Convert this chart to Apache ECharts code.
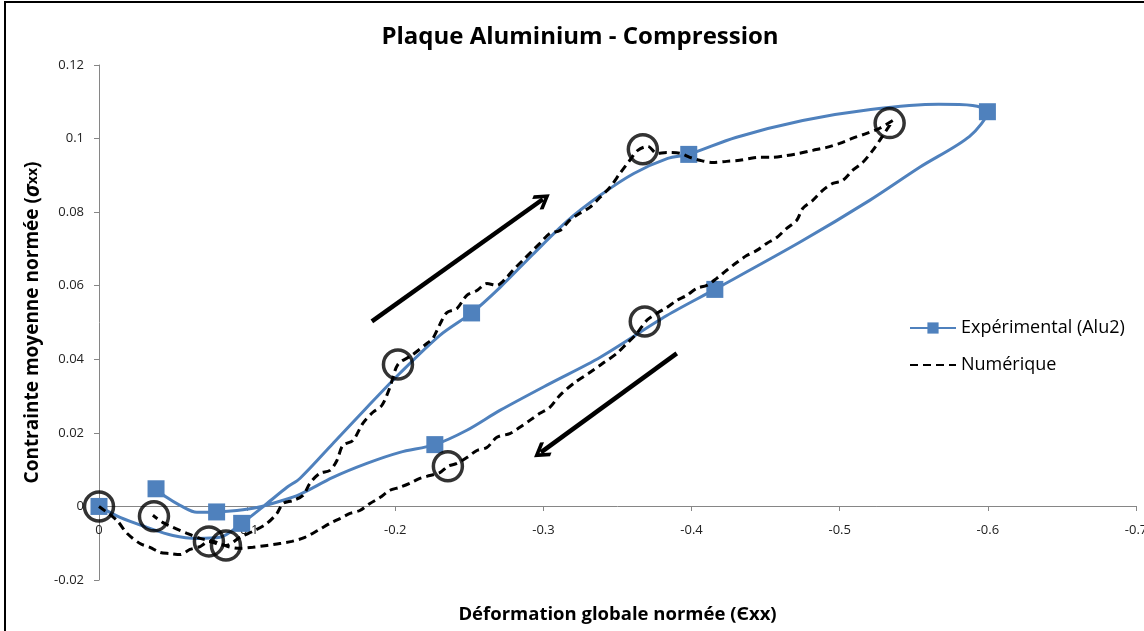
<!DOCTYPE html>
<html>
<head>
<meta charset="utf-8">
<script src="https://cdn.jsdelivr.net/npm/echarts@6/dist/echarts.min.js"></script>
<style>
html,body{margin:0;padding:0;background:#fff;}
#c{width:1144px;height:631px;}
</style>
</head>
<body>
<div id="c"></div>
<script>
const expCurveX = [0, -0.0142, -0.0324, -0.0499, -0.0661, -0.0816, -0.0963,
  -0.1134, -0.1269, -0.1356, -0.1579, -0.1808, -0.2031, -0.2301, -0.2515,
  -0.2706, -0.2928, -0.3158, -0.3381, -0.3610, -0.3839, -0.3981,
  -0.4298, -0.4750, -0.5209, -0.5668, -0.5897, -0.5997,
  -0.5877, -0.5540, -0.5202, -0.4730, -0.4157,
  -0.3833, -0.3381, -0.3043, -0.2706, -0.2483, -0.2267,
  -0.2031, -0.1808, -0.1579, -0.1356, -0.1221, -0.1066, -0.0931, -0.0794,
  -0.0661, -0.0547, -0.0459, -0.0385];
const expCurveY = [0, -0.0030, -0.0057, -0.0079, -0.0087, -0.0084, -0.0046,
  0.0008, 0.0052, 0.0076, 0.0171, 0.0269, 0.0362, 0.0465, 0.0526,
  0.0595, 0.0685, 0.0775, 0.0845, 0.0905, 0.0946, 0.0957,
  0.1003, 0.1049, 0.1079, 0.1093, 0.1090, 0.1073,
  0.1006, 0.0922, 0.0832, 0.0718, 0.0590,
  0.0519, 0.0405, 0.0334, 0.0261, 0.0207, 0.0168,
  0.0147, 0.0117, 0.0079, 0.0033, 0.0014, -0.0003, -0.0011, -0.0015,
  -0.0016, 0.0003, 0.0024, 0.0048];
// Indices of the measured points (square markers) within the curve
const expMarkerIdx = [0, 6, 14, 21, 27, 32, 38, 46, 50];

// Numerical result
const numX = [0, -0.0121, -0.0189, -0.0277, -0.0344, -0.0412, -0.0479, -0.0547, -0.0614, -0.0682, -0.0742, -0.0803, -0.0857,
  -0.0951, -0.1053, -0.1134, -0.1201, -0.1242, -0.1309, -0.1377, -0.1424, -0.1491, -0.1559, -0.1606, -0.1646, -0.1714, -0.1781, -0.1849, -0.1910, -0.1964, -0.2018,
  -0.2112, -0.2213, -0.2254, -0.2301, -0.2348, -0.2416, -0.2483, -0.2551, -0.2618, -0.2686, -0.2753, -0.2794, -0.2861, -0.2928, -0.2976, -0.3043, -0.3111, -0.3178, -0.3246, -0.3313, -0.3381, -0.3448, -0.3516, -0.3583, -0.3637, -0.3705,
  -0.3765, -0.3833, -0.3920, -0.3988, -0.4055, -0.4143, -0.4237, -0.4325, -0.4393, -0.4460, -0.4548, -0.4642, -0.4730, -0.4818, -0.4912, -0.5000, -0.5088, -0.5182, -0.5270, -0.5358,
  -0.5270, -0.5223, -0.5155, -0.5088, -0.5020, -0.4953, -0.4885, -0.4818, -0.4750, -0.4710, -0.4642, -0.4575, -0.4507, -0.4440, -0.4372, -0.4305, -0.4237, -0.4170, -0.4103, -0.4035, -0.3968, -0.3900, -0.3833, -0.3765, -0.3698,
  -0.3630, -0.3563, -0.3495, -0.3401, -0.3313, -0.3212, -0.3111, -0.3043, -0.2976, -0.2908, -0.2841, -0.2773, -0.2686, -0.2618, -0.2551, -0.2483, -0.2416, -0.2355,
  -0.2301, -0.2233, -0.2166, -0.2099, -0.2031, -0.1964, -0.1896, -0.1829, -0.1761, -0.1694, -0.1626, -0.1559, -0.1478, -0.1390, -0.1302, -0.1221, -0.1134, -0.1039, -0.0951,
  -0.0870, -0.0776, -0.0682, -0.0594, -0.0499, -0.0432, -0.0364];
const numY = [0, -0.0038, -0.0073, -0.0101, -0.0111, -0.0125, -0.0128, -0.0131, -0.0117, -0.0109, -0.0095, -0.0103, -0.0106,
  -0.0084, -0.0065, -0.0046, -0.0019, 0.0008, 0.0016, 0.0030, 0.0063, 0.0090, 0.0098, 0.0125, 0.0166, 0.0179, 0.0226, 0.0256, 0.0275, 0.0324, 0.0386,
  0.0411, 0.0443, 0.0457, 0.0495, 0.0527, 0.0538, 0.0574, 0.0587, 0.0606, 0.0601, 0.0623, 0.0642, 0.0669, 0.0696, 0.0715, 0.0742, 0.0750, 0.0778, 0.0797, 0.0813, 0.0840, 0.0867, 0.0905, 0.0941, 0.0968, 0.0979,
  0.0960, 0.0962, 0.0960, 0.0949, 0.0941, 0.0935, 0.0938, 0.0941, 0.0946, 0.0949, 0.0949, 0.0954, 0.0960, 0.0968, 0.0976, 0.0987, 0.1001, 0.1014, 0.1028, 0.1049,
  0.0995, 0.0968, 0.0935, 0.0914, 0.0886, 0.0878, 0.0859, 0.0832, 0.0810, 0.0778, 0.0756, 0.0731, 0.0715, 0.0696, 0.0682, 0.0663, 0.0642, 0.0620, 0.0601, 0.0593, 0.0574, 0.0560, 0.0541, 0.0525, 0.0506,
  0.0470, 0.0443, 0.0416, 0.0389, 0.0364, 0.0337, 0.0302, 0.0269, 0.0253, 0.0234, 0.0215, 0.0198, 0.0188, 0.0160, 0.0152, 0.0133, 0.0117, 0.0109,
  0.0092, 0.0084, 0.0076, 0.0063, 0.0052, 0.0044, 0.0024, 0.0008, -0.0011, -0.0019, -0.0033, -0.0046, -0.0065, -0.0084, -0.0095, -0.0101, -0.0106, -0.0111, -0.0114,
  -0.0109, -0.0095, -0.0087, -0.0073, -0.0057, -0.0044, -0.0024];

// Highlighted states (open circles)
const circleX = [0, -0.0371, -0.0742, -0.0857, -0.2018, -0.3671, -0.5337, -0.3684, -0.2355];
const circleY = [0, -0.0027, -0.0095, -0.0106, 0.0386, 0.0971, 0.1042, 0.0503, 0.0109];

// Direction arrows (start -> end, data coordinates)
const arrowFrom = [[-0.1842, 0.0503], [-0.3900, 0.0416]];
const arrowTo   = [[-0.2996, 0.0835], [-0.2983, 0.0147]];

const seriesNames = ['Expérimental (Alu2)', 'Numérique'];
const titleText = 'Plaque Aluminium - Compression';

const zip = (xs, ys) => xs.map((x, i) => [x, ys[i]]);
const FONT = '"Open Sans", "DejaVu Sans", sans-serif';
const chevron = 'path://M12,0 L24,12 L21,15 L12,6 L3,15 L0,12 Z';
const fmt = v => (Math.abs(v) < 1e-9 ? '0' : String(+v.toFixed(2)));

const expData = expCurveX.map((x, i) => (
  expMarkerIdx.indexOf(i) >= 0 ? {value: [x, expCurveY[i]]} : {value: [x, expCurveY[i]], symbol: 'none'}
));

const chart = echarts.init(document.getElementById('c'), null, {renderer: 'canvas'});
chart.setOption({
  backgroundColor: '#fff',
  animation: false,
  legend: {
    data: [
      {name: seriesNames[0]},
      {name: seriesNames[1], itemStyle: {opacity: 0}}
    ],
    orient: 'vertical',
    left: 904,
    top: 314,
    itemWidth: 46,
    itemHeight: 14,
    itemGap: 19,
    textStyle: {fontFamily: FONT, fontSize: 18, color: '#000'}
  },
  grid: {left: 99, right: 8, top: 65, bottom: 51, containLabel: false, outerBoundsMode: 'none'},
  xAxis: {
    type: 'value',
    inverse: true,
    min: -0.7, max: 0, interval: 0.1,
    offset: -74,
    name: 'Déformation globale normée (Єxx)',
    nameLocation: 'middle',
    nameGap: 99,
    nameTextStyle: {fontFamily: FONT, fontWeight: 'bold', fontSize: 18.5, color: '#000'},
    axisLine: {onZero: false, lineStyle: {color: '#868686', width: 1}},
    axisTick: {show: true, length: 5, lineStyle: {color: '#868686'}},
    axisLabel: {fontFamily: FONT, fontSize: 13, color: '#222', margin: 18, hideOverlap: false, formatter: fmt},
    splitLine: {show: false}
  },
  yAxis: {
    type: 'value',
    min: -0.02, max: 0.12, interval: 0.02,
    name: '{a|Contrainte moyenne normée (}{s|σ}{b|xx}{a|)}',
    nameLocation: 'middle',
    nameGap: 52,
    nameTextStyle: {
      fontFamily: FONT, fontWeight: 'bold', fontSize: 19, color: '#000',
      rich: {
        a: {fontFamily: FONT, fontWeight: 'bold', fontSize: 19, color: '#000'},
        s: {fontFamily: FONT, fontWeight: 'bold', fontStyle: 'italic', fontSize: 21, color: '#000'},
        b: {fontFamily: FONT, fontWeight: 'bold', fontSize: 14, color: '#000'}
      }
    },
    axisLine: {onZero: false, lineStyle: {color: '#868686', width: 1}},
    axisTick: {show: true, length: 5, lineStyle: {color: '#868686'}},
    axisLabel: {fontFamily: FONT, fontSize: 13, color: '#222', margin: 15, hideOverlap: false, showMinLabel: true, showMaxLabel: true, formatter: fmt},
    splitLine: {show: false}
  },
  graphic: [
    {
      type: 'polyline',
      silent: true,
      shape: {points: [[5, 640], [5, 2], [1150, 2]]},
      style: {stroke: '#000', lineWidth: 2, fill: null}
    },
    {
      type: 'text',
      silent: true,
      x: 580,
      y: 37,
      style: {
        text: titleText,
        fontFamily: FONT, fontWeight: 'bold', fontSize: 24, fill: '#000',
        textAlign: 'center', textVerticalAlign: 'middle'
      }
    }
  ],
  series: [
    {
      name: seriesNames[0],
      type: 'line',
      data: expData,
      smooth: 0.3,
      symbol: 'rect',
      symbolSize: 17,
      showAllSymbol: true,
      color: '#4F81BD',
      itemStyle: {color: '#4F81BD'},
      lineStyle: {color: '#4F81BD', width: 3},
      z: 2
    },
    {
      name: seriesNames[1],
      type: 'line',
      data: zip(numX, numY),
      smooth: 0.3,
      showSymbol: false,
      symbol: 'none',
      color: '#000',
      lineStyle: {color: '#000', width: 3, type: [8, 5]},
      z: 3,
      markLine: {
        silent: true,
        symbol: ['none', chevron],
        symbolSize: 17,
        label: {show: false},
        lineStyle: {color: '#000', width: 4.5, type: 'solid'},
        emphasis: {disabled: true},
        data: arrowFrom.map((p, i) => [{coord: p}, {coord: arrowTo[i]}])
      }
    },
    {
      name: 'états',
      type: 'scatter',
      data: zip(circleX, circleY),
      symbol: 'circle',
      symbolSize: 29,
      itemStyle: {color: 'rgba(255,255,255,0)', borderColor: '#000', borderWidth: 3.5},
      z: 4
    }
  ]
});
</script>
</body>
</html>
